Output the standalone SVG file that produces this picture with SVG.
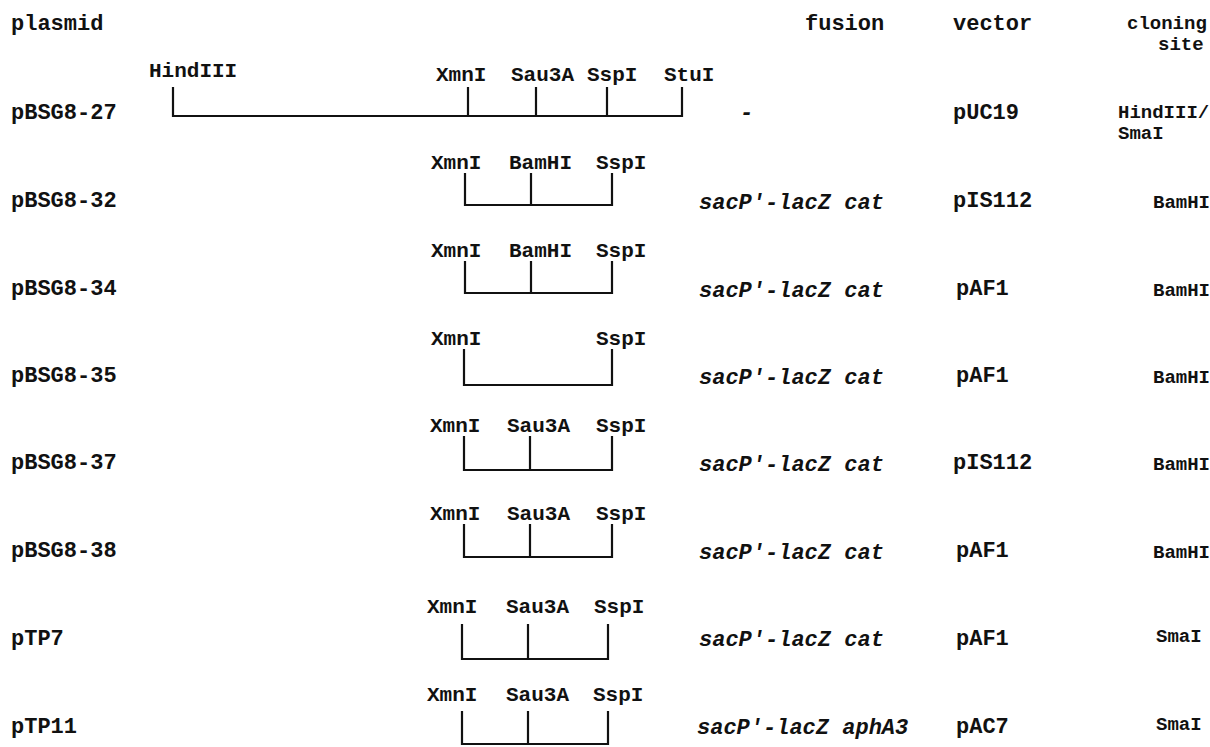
<svg xmlns="http://www.w3.org/2000/svg" width="1210" height="747" viewBox="0 0 1210 747">
  <style>
    text { font-family: "Liberation Mono", "Courier New", monospace; font-weight: bold; fill: #111; }
    .h { font-size: 22px; }
    .n { font-size: 22px; }
    .s { font-size: 21px; }
    .c { font-size: 19px; }
    .f { font-size: 22px; font-style: italic; }
    .map { fill: none; stroke: #111; stroke-width: 2.2; stroke-linecap: square; stroke-linejoin: miter; }
  </style>
  <rect width="1210" height="747" fill="#fff"/>

  <!-- column headers -->
  <g id="headers">
    <text class="h" x="11" y="30">plasmid</text>
    <text class="h" x="805" y="30">fusion</text>
    <text class="h" x="953" y="30">vector</text>
    <text class="c" x="1127" y="29">cloning</text>
    <text class="c" x="1158" y="50">site</text>
  </g>

  <!-- pBSG8-27 -->
  <g id="pBSG8-27">
    <text class="n" x="11" y="119">pBSG8-27</text>
    <text class="s" x="149" y="77">HindIII</text>
    <text class="s" x="436" y="81">XmnI</text>
    <text class="s" x="511" y="81">Sau3A</text>
    <text class="s" x="587" y="81">SspI</text>
    <text class="s" x="664" y="81">StuI</text>
    <path class="map" d="M173,88 V116 H682 V88 M468,88 V116 M536,88 V116 M607,88 V116"/>
    <text class="f" x="740" y="119">-</text>
    <text class="n" x="953" y="119">pUC19</text>
    <text class="c" x="1118" y="118">HindIII/</text>
    <text class="c" x="1118" y="139">SmaI</text>
  </g>

  <!-- pBSG8-32 -->
  <g id="pBSG8-32">
    <text class="n" x="11" y="207">pBSG8-32</text>
    <text class="s" x="431" y="169">XmnI</text>
    <text class="s" x="509" y="169">BamHI</text>
    <text class="s" x="596" y="169">SspI</text>
    <path class="map" d="M465,174 V205 H612 V174 M531,174 V205"/>
    <text class="f" x="699" y="209">sacP'-lacZ cat</text>
    <text class="n" x="953" y="207">pIS112</text>
    <text class="c" x="1153" y="208">BamHI</text>
  </g>

  <!-- pBSG8-34 -->
  <g id="pBSG8-34">
    <text class="n" x="11" y="295">pBSG8-34</text>
    <text class="s" x="431" y="257">XmnI</text>
    <text class="s" x="509" y="257">BamHI</text>
    <text class="s" x="596" y="257">SspI</text>
    <path class="map" d="M465,262 V293 H612 V262 M531,262 V293"/>
    <text class="f" x="699" y="297">sacP'-lacZ cat</text>
    <text class="n" x="956" y="295">pAF1</text>
    <text class="c" x="1153" y="296">BamHI</text>
  </g>

  <!-- pBSG8-35 -->
  <g id="pBSG8-35">
    <text class="n" x="11" y="382">pBSG8-35</text>
    <text class="s" x="431" y="345">XmnI</text>
    <text class="s" x="596" y="345">SspI</text>
    <path class="map" d="M464,350 V385 H612 V350"/>
    <text class="f" x="699" y="384">sacP'-lacZ cat</text>
    <text class="n" x="956" y="382">pAF1</text>
    <text class="c" x="1153" y="383">BamHI</text>
  </g>

  <!-- pBSG8-37 -->
  <g id="pBSG8-37">
    <text class="n" x="11" y="469">pBSG8-37</text>
    <text class="s" x="430" y="432">XmnI</text>
    <text class="s" x="507" y="432">Sau3A</text>
    <text class="s" x="596" y="432">SspI</text>
    <path class="map" d="M464,437 V470 H612 V437 M530,437 V470"/>
    <text class="f" x="699" y="471">sacP'-lacZ cat</text>
    <text class="n" x="953" y="469">pIS112</text>
    <text class="c" x="1153" y="470">BamHI</text>
  </g>

  <!-- pBSG8-38 -->
  <g id="pBSG8-38">
    <text class="n" x="11" y="557">pBSG8-38</text>
    <text class="s" x="430" y="520">XmnI</text>
    <text class="s" x="507" y="520">Sau3A</text>
    <text class="s" x="596" y="520">SspI</text>
    <path class="map" d="M464,525 V557 H612 V525 M530,525 V557"/>
    <text class="f" x="699" y="559">sacP'-lacZ cat</text>
    <text class="n" x="956" y="557">pAF1</text>
    <text class="c" x="1153" y="558">BamHI</text>
  </g>

  <!-- pTP7 -->
  <g id="pTP7">
    <text class="n" x="11" y="645">pTP7</text>
    <text class="s" x="427" y="613">XmnI</text>
    <text class="s" x="506" y="613">Sau3A</text>
    <text class="s" x="594" y="613">SspI</text>
    <path class="map" d="M462,625 V659 H608 V625 M528,625 V659"/>
    <text class="f" x="699" y="646">sacP'-lacZ cat</text>
    <text class="n" x="956" y="645">pAF1</text>
    <text class="c" x="1156" y="642">SmaI</text>
  </g>

  <!-- pTP11 -->
  <g id="pTP11">
    <text class="n" x="11" y="733">pTP11</text>
    <text class="s" x="427" y="701">XmnI</text>
    <text class="s" x="506" y="701">Sau3A</text>
    <text class="s" x="593" y="701">SspI</text>
    <path class="map" d="M462,712 V744 H608 V712 M528,712 V744"/>
    <text class="f" x="697" y="734">sacP'-lacZ aphA3</text>
    <text class="n" x="956" y="733">pAC7</text>
    <text class="c" x="1156" y="730">SmaI</text>
  </g>
</svg>
